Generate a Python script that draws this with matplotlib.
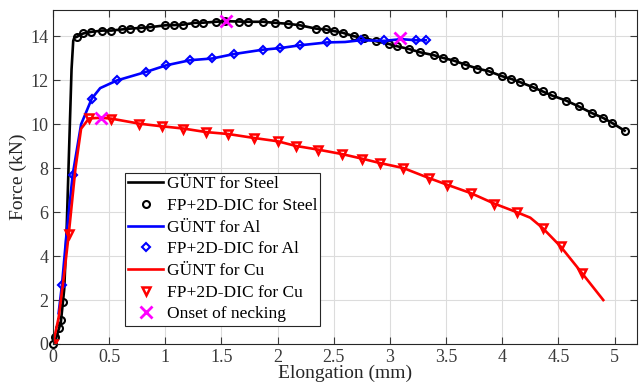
import matplotlib
matplotlib.use('Agg')
import matplotlib.pyplot as plt

plt.rcParams['font.family'] = ['Liberation Serif', 'DejaVu Serif']

# steel (GÜNT curve and FP+2D-DIC points)
steel_rise_x = [0.0, 0.03, 0.07, 0.10, 0.12, 0.135, 0.15, 0.165, 0.18, 0.19]
steel_rise_y = [0.0, 0.3, 1.0, 2.5, 5.0, 7.5, 10.0, 12.5, 13.8, 13.95]
steel_x = [0.0, 0.02, 0.05, 0.07, 0.09, 0.21, 0.27, 0.34, 0.44, 0.52, 0.61, 0.69,
           0.78, 0.86, 1.00, 1.08, 1.16, 1.26, 1.34, 1.45, 1.53, 1.66, 1.74, 1.87,
           1.98, 2.09, 2.20, 2.34, 2.43, 2.50, 2.58, 2.68, 2.77, 2.88, 2.99, 3.06,
           3.17, 3.27, 3.39, 3.47, 3.57, 3.67, 3.78, 3.88, 4.00, 4.08, 4.16, 4.27,
           4.36, 4.44, 4.57, 4.68, 4.80, 4.90, 4.98, 5.09]
steel_y = [0.0, 0.3, 0.75, 1.1, 1.9, 13.98, 14.14, 14.21, 14.27, 14.27, 14.32, 14.36,
           14.39, 14.42, 14.51, 14.52, 14.54, 14.62, 14.63, 14.67, 14.70, 14.68, 14.67, 14.67,
           14.62, 14.58, 14.51, 14.36, 14.32, 14.25, 14.17, 14.01, 13.94, 13.78, 13.66, 13.56,
           13.43, 13.28, 13.15, 13.03, 12.90, 12.72, 12.54, 12.42, 12.19, 12.07, 11.92, 11.70,
           11.50, 11.32, 11.08, 10.82, 10.51, 10.29, 10.06, 9.71]

# aluminium
al_line_x = [0.05, 0.08, 0.12, 0.175, 0.25, 0.345, 0.42, 0.57, 0.83, 1.01, 1.22, 1.42,
             1.61, 1.87, 2.02, 2.20, 2.44, 2.60, 2.74, 2.95, 3.10, 3.23, 3.32]
al_line_y = [1.4, 2.7, 5.0, 7.7, 10.0, 11.17, 11.65, 12.0, 12.39, 12.69, 12.92, 13.0,
             13.2, 13.40, 13.47, 13.60, 13.73, 13.75, 13.83, 13.80, 13.88, 13.83, 13.83]
al_x = [0.08, 0.175, 0.345, 0.57, 0.83, 1.01, 1.22, 1.42, 1.61, 1.87, 2.02, 2.20,
        2.44, 2.74, 2.95, 3.23, 3.32]
al_y = [2.7, 7.7, 11.17, 12.0, 12.39, 12.69, 12.92, 13.0, 13.2, 13.40, 13.47, 13.60,
        13.73, 13.83, 13.82, 13.83, 13.83]

# copper
cu_line_x = [0.0, 0.05, 0.10, 0.14, 0.20, 0.25, 0.32, 0.43, 0.52, 0.77, 0.97, 1.16,
             1.36, 1.56, 1.79, 2.00, 2.16, 2.36, 2.57, 2.75, 2.91, 3.12, 3.35, 3.51,
             3.72, 3.93, 4.13, 4.25, 4.36, 4.52, 4.71, 4.90]
cu_line_y = [0.0, 1.2, 3.2, 5.0, 8.0, 9.8, 10.27, 10.3, 10.26, 10.03, 9.91, 9.81,
             9.65, 9.56, 9.38, 9.23, 9.02, 8.85, 8.65, 8.44, 8.24, 8.01, 7.55, 7.25,
             6.87, 6.39, 6.0, 5.75, 5.28, 4.44, 3.23, 2.0]
cu_x = [0.0, 0.14, 0.32, 0.52, 0.77, 0.97, 1.16, 1.36, 1.56, 1.79, 2.00, 2.16, 2.36,
        2.57, 2.75, 2.91, 3.12, 3.35, 3.51, 3.72, 3.93, 4.13, 4.36, 4.52, 4.71]
cu_y = [0.0, 5.0, 10.27, 10.26, 10.03, 9.91, 9.81, 9.65, 9.56, 9.38, 9.23, 9.02, 8.85,
        8.65, 8.44, 8.24, 8.01, 7.55, 7.25, 6.87, 6.39, 6.0, 5.28, 4.44, 3.23]

# onset of necking
neck_x = [1.54, 3.09, 0.43]
neck_y = [14.70, 13.91, 10.29]

fig = plt.figure(figsize=(6.41, 3.90), dpi=100)
ax = fig.add_axes([0.0827, 0.118, 0.911, 0.856])

lw = 1.9
ax.plot(steel_rise_x + steel_x[5:], steel_rise_y + steel_y[5:], color='black', lw=lw,
        label='GÜNT for Steel')
ax.plot(steel_x, steel_y, ls='none', marker='o', ms=5, mfc='none', mec='black',
        mew=1.5, label='FP+2D-DIC for Steel', clip_on=False)
ax.plot(al_line_x, al_line_y, color='#0000ff', lw=lw, label='GÜNT for Al')
ax.plot(al_x, al_y, ls='none', marker='D', ms=4.5, mfc='none', mec='#0000ff',
        mew=1.5, label='FP+2D-DIC for Al')
ax.plot(cu_line_x, cu_line_y, color='#ff0000', lw=lw, label='GÜNT for Cu')
ax.plot(cu_x, cu_y, ls='none', marker='v', ms=6, mfc='none', mec='#ff0000',
        mew=1.8, label='FP+2D-DIC for Cu')
ax.plot(neck_x, neck_y, ls='none', marker='x', ms=9, mec='#ff00ff', mew=2,
        label='Onset of necking')

ax.set_xlim(0, 5.2)
ax.set_ylim(0, 15.2)
ax.set_xticks([0, 0.5, 1, 1.5, 2, 2.5, 3, 3.5, 4, 4.5, 5])
ax.set_xticklabels(['0', '0.5', '1', '1.5', '2', '2.5', '3', '3.5', '4', '4.5', '5'])
ax.set_yticks([0, 2, 4, 6, 8, 10, 12, 14])
ax.grid(True, color='#dcdcdc', lw=0.8)
ax.set_axisbelow(True)
ax.tick_params(direction='in', top=True, right=True, labelsize=13, colors='#3a3a3a',
               length=5, width=0.8)
for s in ax.spines.values():
    s.set_color('#262626')
    s.set_linewidth(0.8)

ax.set_xlabel('Elongation (mm)', fontsize=14, labelpad=-1, color='#262626')
ax.set_ylabel('Force (kN)', fontsize=14, labelpad=2, color='#262626')

leg = ax.legend(loc='lower left', bbox_to_anchor=(0.123, 0.054), fontsize=12.5,
                frameon=True, fancybox=False, edgecolor='#262626', framealpha=1,
                handlelength=2.0, handletextpad=0.2, labelspacing=0.32,
                borderpad=0.2, borderaxespad=0)
leg.get_frame().set_linewidth(0.8)

fig.savefig('out.png', dpi=100)
